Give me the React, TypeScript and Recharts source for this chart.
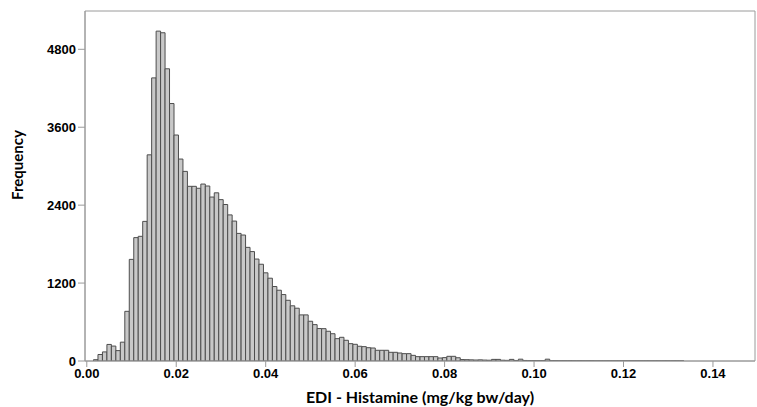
import { Bar, ComposedChart, ReferenceArea, XAxis, YAxis } from "recharts";

// histogram bins: width 0.001, first midpoint 0.001
const binWidth = 0.001;
const firstMid = 0.001;

const counts = [
  0, 20, 100, 140, 255, 230, 160, 290, 765, 1565,
  1900, 1920, 2150, 3175, 4360, 5080, 5055, 4500, 3965, 3480,
  3110, 2920, 2690, 2690, 2660, 2725, 2695, 2525, 2590, 2485,
  2410, 2250, 2155, 1965, 1940, 1750, 1685, 1570, 1490, 1358,
  1275, 1147, 1090, 1023, 935, 850, 813, 710, 710, 612,
  560, 500, 498, 458, 420, 344, 365, 319, 267, 257,
  227, 221, 205, 200, 165, 165, 165, 134, 134, 123,
  113, 113, 87, 67, 67, 67, 67, 67, 46, 52,
  72, 72, 50, 22, 20, 18, 15, 18, 14, 12,
  25, 25, 12, 10, 25, 8, 28, 8, 6, 5,
  5, 5, 28, 4, 4, 3, 3, 3, 2, 2,
  2, 2, 2, 1, 1, 1, 1, 1, 1, 1,
  1, 1, 1, 1, 1, 1, 1, 1, 1, 1,
  1, 1, 1,
];

const xTicks = [0, 0.02, 0.04, 0.06, 0.08, 0.1, 0.12, 0.14];
const yTicks = [0, 1200, 2400, 3600, 4800];
const xDomain: [number, number] = [-0.0004, 0.1494];
const yDomain: [number, number] = [0, 5390];

const data = counts.map((c, i) => ({ x: +(firstMid + i * binWidth).toFixed(3), count: c }));

const tickStyle = { fontFamily: "Liberation Sans", fontWeight: 700, fontSize: 13, fill: "#000" };
const axisGray = "#9a9a9a";

export default function App() {
  return (
    <div style={{ position: "absolute", left: 0, top: 0 }}>
      <ComposedChart width={757} height={407} data={data} margin={{ top: 11, right: 2, bottom: 0, left: 0 }}>
        <XAxis
          type="number"
          dataKey="x"
          domain={xDomain}
          ticks={xTicks}
          allowDataOverflow
          height={46}
          tick={tickStyle}
          tickFormatter={(v: number) => v.toFixed(2)}
          tickSize={6}
          tickMargin={2}
          stroke={axisGray}
          label={{
            value: "EDI - Histamine (mg/kg bw/day)",
            position: "insideBottom",
            offset: 4,
            style: { fontFamily: "Lato", fontWeight: 700, fontSize: 16, fill: "#000" },
          }}
        />
        <YAxis
          type="number"
          domain={yDomain}
          ticks={yTicks}
          allowDataOverflow
          width={85}
          tick={tickStyle}
          tickSize={7}
          tickMargin={2}
          stroke={axisGray}
          label={{
            content: () => (
              <text
                x={17}
                y={165}
                transform="rotate(-90 17 165)"
                textAnchor="middle"
                dominantBaseline="central"
                style={{ fontFamily: "Lato", fontWeight: 700, fontSize: 15, fill: "#000" }}
              >
                Frequency
              </text>
            ),
          }}
        />
        <ReferenceArea x1={xDomain[0]} x2={xDomain[1]} y1={yDomain[0]} y2={yDomain[1]} fill="none" stroke={axisGray} ifOverflow="visible" />
        <Bar dataKey="count" barSize={4.47} fill="#c8c8c8" stroke="#4d4d4d" strokeWidth={1} isAnimationActive={false} />
      </ComposedChart>
    </div>
  );
}
